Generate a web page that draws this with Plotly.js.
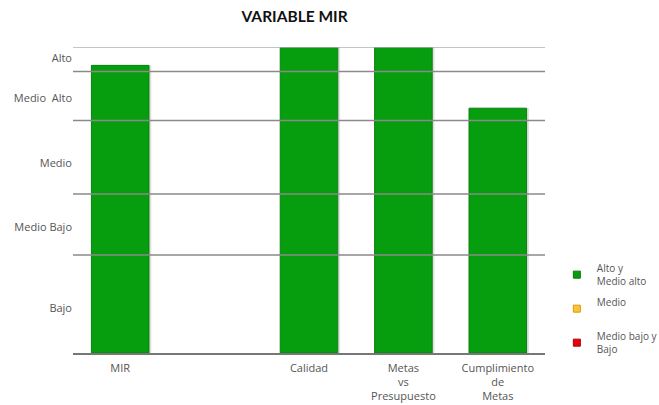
<!DOCTYPE html>
<html>
<head>
<meta charset="utf-8">
<script src="https://cdn.plot.ly/plotly-3.0.1.min.js"></script>
<style>html,body{margin:0;padding:0;background:#fff;}#chart{width:659px;height:405px;}</style>
</head>
<body>
<div id="chart"></div>
<script>
// Data
const categories = ['MIR', 'gap', 'Calidad', 'Metas vs Presupuesto', 'Cumplimiento de Metas'];
const tickLabels = ['MIR', '', 'Calidad', 'Metas<br>vs<br>Presupuesto', 'Cumplimiento<br>de<br>Metas'];
const values = [94, null, 100, 100, 80];
const levelLabels = ['Bajo', 'Medio Bajo', 'Medio', 'Medio  Alto', 'Alto'];
const levelLabelPos = [14.5, 41, 62, 83.3, 96.2];
const levelBounds = [32, 52, 76, 92, 100];
const legendNames = ['Alto y<br>Medio alto', 'Medio<br>&nbsp;', 'Medio bajo y<br>Bajo'];
const legendColors = ['#069e0f', '#f7c43a', '#e3000f'];
const legendBorders = ['#0a7a0a', '#e09a00', '#b00000'];

const font = '"Open Sans", Lato, sans-serif';
const traces = [];
// shadow
traces.push({
  type: 'bar', x: categories, y: values, width: 0.61, offset: -0.28,
  marker: {color: 'rgba(0,0,0,0.12)', line: {width: 0}},
  showlegend: false, hoverinfo: 'skip'
});
traces.push({
  type: 'bar', x: categories, y: values, width: 0.61, offset: -0.305,
  marker: {color: '#069e0f', line: {color: '#0b800f', width: 1}},
  showlegend: false
});
legendNames.forEach((n, i) => {
  traces.push({
    type: 'scatter', mode: 'markers', x: [null], y: [null], name: n,
    legendgroup: 'g' + i,
    marker: {symbol: 'square', size: 7, color: legendColors[i], line: {color: legendBorders[i], width: 1}}
  });
});

const shapes = levelBounds.map((v, i) => ({
  type: 'line', xref: 'paper', yref: 'y', x0: 0, x1: 1, y0: v, y1: v,
  layer: 'above',
  line: {color: i === levelBounds.length - 1 ? '#b0b0b0' : '#8a8a8a', width: 1.5}
}));

const layout = {
  width: 659, height: 405,
  margin: {l: 73, r: 114, t: 47, b: 52, autoexpand: false},
  paper_bgcolor: '#fff', plot_bgcolor: '#fff',
  barmode: 'overlay',
  font: {family: font, size: 11, color: '#555'},
  title: {text: 'VARIABLE MIR', x: 0.447, xref: 'container', xanchor: 'center', y: 0.96, yanchor: 'middle',
    font: {family: 'Lato, sans-serif', size: 15.5, color: '#111', weight: 'bold'}},
  xaxis: {type: 'category', categoryorder: 'array', categoryarray: categories,
    tickvals: categories, ticktext: tickLabels, showgrid: false, zeroline: false,
    showline: true, linecolor: '#777', linewidth: 1.5, ticks: '', range: [-0.5, 4.5],
    ticklabelstandoff: 4,
    tickfont: {size: 11, color: '#555'}},
  yaxis: {range: [0, 100], tickvals: levelLabelPos, ticktext: levelLabels,
    showgrid: false, zeroline: false, showline: false, ticks: '', ticklabelstandoff: 0,
    tickfont: {size: 11, color: '#555'}},
  shapes: shapes,
  showlegend: true,
  legend: {x: 0.845, xref: 'container', xanchor: 'left', y: 0.37, yref: 'container', yanchor: 'top', tracegroupgap: 5,
    font: {size: 10, color: '#555'}, itemwidth: 30, bgcolor: 'rgba(0,0,0,0)'}
};

Plotly.newPlot('chart', traces, layout, {displayModeBar: false, staticPlot: true});
</script>
</body>
</html>
